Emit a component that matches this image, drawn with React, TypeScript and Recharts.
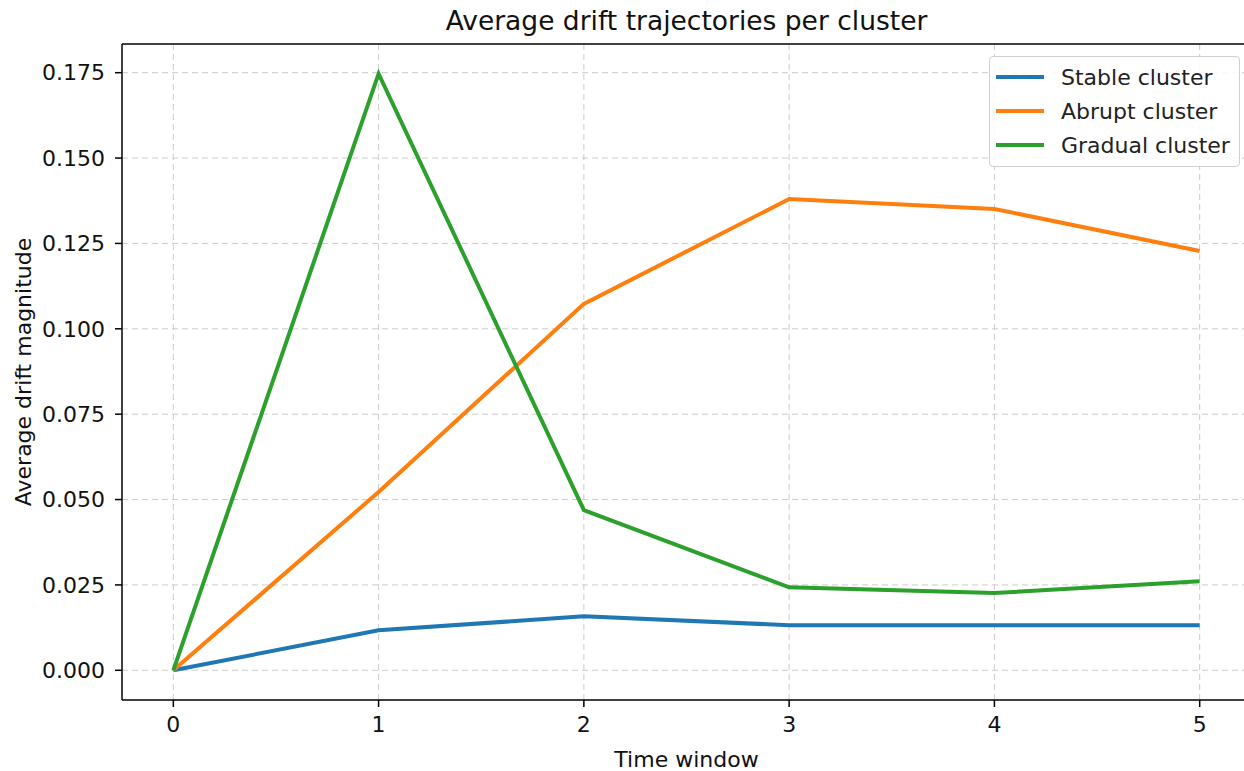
import React from 'react';
import {
  LineChart,
  Line,
  XAxis,
  YAxis,
  CartesianGrid,
  ReferenceLine,
} from 'recharts';

const timeWindows = [0, 1, 2, 3, 4, 5];
const stableValues = [0, 0.0117, 0.0158, 0.0132, 0.0132, 0.0132];
const abruptValues = [0, 0.0522, 0.1073, 0.138, 0.1351, 0.1228];
const gradualValues = [0, 0.1747, 0.0469, 0.0243, 0.0226, 0.0261];
const yTicks = [0, 0.025, 0.05, 0.075, 0.1, 0.125, 0.15, 0.175];
const yDomain = [-0.0087, 0.1834];

const seriesInfo = [
  { key: 'stable', name: 'Stable cluster', color: '#1f77b4' },
  { key: 'abrupt', name: 'Abrupt cluster', color: '#ff7f0e' },
  { key: 'gradual', name: 'Gradual cluster', color: '#2ca02c' },
];

const chartData = timeWindows.map((t, i) => ({
  t,
  stable: stableValues[i],
  abrupt: abruptValues[i],
  gradual: gradualValues[i],
}));

const FONT = 'DejaVu Sans, sans-serif';
const TXT = 22;

function LegendBox() {
  return (
    <div
      style={{
        position: 'absolute',
        top: 56,
        left: 989,
        width: 251,
        height: 111,
        boxSizing: 'border-box',
        border: '1px solid #d0d0d0',
        borderRadius: 4,
        background: 'rgba(255,255,255,0.85)',
        padding: '3px 0 0 6px',
        fontFamily: FONT,
        fontSize: TXT,
        color: '#222',
      }}
    >
      {seriesInfo.map((s) => (
        <div
          key={s.key}
          style={{ display: 'flex', alignItems: 'center', height: 34 }}
        >
          <div
            style={{
              width: 48,
              height: 4,
              background: s.color,
              marginRight: 17,
            }}
          />
          <span style={{ whiteSpace: 'nowrap' }}>{s.name}</span>
        </div>
      ))}
    </div>
  );
}

export default function App() {
  return (
    <div
      style={{
        position: 'absolute',
        left: 0,
        top: 0,
        width: 1244,
        height: 771,
        overflow: 'hidden',
        background: 'white',
        fontFamily: FONT,
      }}
    >
      <div
        style={{
          position: 'absolute',
          top: 5,
          left: 122,
          width: 1129,
          textAlign: 'center',
          fontSize: 26.5,
          color: '#111',
          whiteSpace: 'nowrap',
        }}
      >
        Average drift trajectories per cluster
      </div>
      <LineChart
        width={1260}
        height={771}
        data={chartData}
        margin={{ top: 44, right: 9, bottom: 0, left: 0 }}
      >
        <CartesianGrid
          stroke="#cccccc"
          strokeDasharray="6 4"
          verticalValues={timeWindows}
          horizontalValues={yTicks}
        />
        <XAxis
          dataKey="t"
          type="number"
          domain={[-0.25, 5.25]}
          ticks={timeWindows}
          height={71}
          tickSize={7}
          tickMargin={9}
          axisLine={{ stroke: '#000', strokeWidth: 1.5 }}
          tickLine={{ stroke: '#000', strokeWidth: 1.5 }}
          tick={{ fill: '#111', fontSize: TXT, fontFamily: FONT }}
          label={{
            value: 'Time window',
            position: 'insideBottom',
            offset: 4,
            style: { fill: '#111', fontSize: TXT, fontFamily: FONT },
          }}
        />
        <YAxis
          type="number"
          domain={yDomain}
          ticks={yTicks}
          width={122}
          tickSize={7}
          tickMargin={10}
          allowDataOverflow
          tickFormatter={(v: number) => v.toFixed(3)}
          axisLine={{ stroke: '#000', strokeWidth: 1.5 }}
          tickLine={{ stroke: '#000', strokeWidth: 1.5 }}
          tick={{ fill: '#111', fontSize: TXT, fontFamily: FONT }}
          label={{
            value: 'Average drift magnitude',
            angle: -90,
            position: 'insideLeft',
            offset: 23,
            style: { textAnchor: 'middle', fill: '#111', fontSize: TXT, fontFamily: FONT },
          }}
        />
        <ReferenceLine y={yDomain[1]} stroke="#000" strokeWidth={1.5} />
        {seriesInfo.map((s) => (
          <Line
            key={s.key}
            type="linear"
            dataKey={s.key}
            name={s.name}
            stroke={s.color}
            strokeWidth={4}
            dot={false}
            activeDot={false}
            isAnimationActive={false}
          />
        ))}
      </LineChart>
      <LegendBox />
    </div>
  );
}
